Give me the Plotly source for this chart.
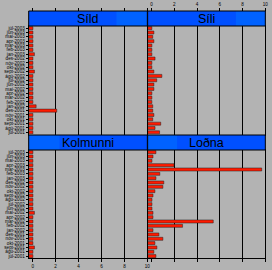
import plotly.graph_objects as go

months = ["júl-2001", "ágú-2001", "sept-2001", "okt-2001", "nóv-2001", "des-2001",
          "jan-2002", "feb-2002", "mar-2002", "apr-2002", "maí-2002", "jún-2002",
          "júl-2002", "ágú-2002", "sept-2002", "okt-2002", "nóv-2002", "des-2002",
          "jan-2003", "feb-2003", "mar-2003", "apr-2003", "maí-2003", "jún-2003",
          "júl-2003"]

# values listed from júl-2001 (bottom) to júl-2003 (top)
sild = [0.02, 0.02, 0.02, 0.02, 0.02, 2.1, 0.3, 0.02, 0.02, 0.02, 0.02, 0.02,
        0.02, 0.02, 0.15, 0.02, 0.02, 0.02, 0.15, 0.02, 0.02, 0.02, 0.02, 0.02, 0.02]
sili = [0.7, 0.3, 0.8, 0.1, 0.2, 0.1, 0.1, 0.02, 0.02, 0.02, 0.2, 0.2,
        0.45, 0.9, 0.2, 0.02, 0.02, 0.3, 0.02, 0.02, 0.02, 0.2, 0.1, 0.2, 0.02]
kolmunni = [0.02, 0.02, 0.15, 0.02, 0.02, 0.02, 0.02, 0.02, 0.02, 0.02, 0.15, 0.02,
            0.02, 0.02, 0.02, 0.02, 0.02, 0.02, 0.02, 0.02, 0.02, 0.02, 0.02, 0.02, 0.02]
lodna = [0.38, 0.2, 0.46, 0.29, 0.99, 0.64, 0.12, 2.72, 5.42, 0.12, 0.12, 0.03,
         0.03, 0.03, 0.12, 0.29, 0.99, 1.07, 0.38, 0.72, 9.68, 1.97, 0.03, 0.12, 0.38]

panel_names = ["Síld", "Síli", "Kolmunni", "Loðna"]
panel_values = [sild, sili, kolmunni, lodna]
x_ticks = [0, 2, 4, 6, 8, 10]
grid_ticks = [2, 4, 6, 8]

XMIN, XMAX = -0.35, 10.0
W, H = 272, 270
BG = "#b3b3b3"
STRIP = "#0050ff"
STRIP_HI = "#0062ff"

col_px = [(29, 149), (149.3, 268.3)]
row_px = [(26, 134.5), (150, 258.3)]      # plot areas (top, bottom) in px from top
strip_px = [(11, 26), (135, 150)]

def px_x(p):
    return p / W

def px_y(p):
    return 1 - p / H

fig = go.Figure()
layout = dict(
    width=W, height=H, margin=dict(l=0, r=0, t=0, b=0),
    paper_bgcolor=BG, plot_bgcolor=BG, showlegend=False,
    font=dict(family="Liberation Sans, Arial, sans-serif", color="black", size=5),
    bargap=0.3,
)
shapes = []
annotations = []
hi_ranges = [(0.74, 1.0), (0.75, 1.0), (0.0, 0.26), (0.0, 0.25)]

for i, (name, vals) in enumerate(zip(panel_names, panel_values)):
    r, c = divmod(i, 2)
    n = i + 1
    xa = "x" if n == 1 else f"x{n}"
    ya = "y" if n == 1 else f"y{n}"
    fig.add_trace(go.Bar(
        y=months, x=[v - XMIN for v in vals], base=XMIN, orientation="h",
        marker=dict(color="#ff1a00", line=dict(color="#202020", width=0.5)),
        xaxis=xa, yaxis=ya, hoverinfo="skip",
    ))
    xd = [px_x(col_px[c][0]), px_x(col_px[c][1])]
    yd = [px_y(row_px[r][1]), px_y(row_px[r][0])]
    layout[f"xaxis{'' if n == 1 else n}"] = dict(
        domain=xd, anchor=ya, range=[XMIN, XMAX], tickvals=grid_ticks,
        showticklabels=False, ticks="", showgrid=True, gridcolor="black",
        gridwidth=1, zeroline=False, showline=True, linecolor="black",
        linewidth=1, mirror=True, fixedrange=True,
    )
    layout[f"yaxis{'' if n == 1 else n}"] = dict(
        domain=yd, anchor=xa, type="category", categoryorder="array",
        categoryarray=months, range=[-0.5, len(months) - 0.5],
        tickmode="array", tickvals=months, ticktext=months,
        showticklabels=(c == 0), ticks="outside" if c == 0 else "",
        ticklen=2, tickwidth=0.6, tickcolor="black",
        tickfont=dict(size=4.6), showgrid=False, zeroline=False,
        showline=True, linecolor="black", linewidth=1, mirror=True,
        fixedrange=True,
    )
    # strip
    sx0, sx1 = xd
    sy0, sy1 = px_y(strip_px[r][1]), px_y(strip_px[r][0])
    shapes.append(dict(type="rect", xref="paper", yref="paper", x0=sx0, x1=sx1,
                       y0=sy0, y1=sy1, fillcolor=STRIP, line=dict(width=0), layer="above"))
    h0, h1 = hi_ranges[i]
    shapes.append(dict(type="rect", xref="paper", yref="paper",
                       x0=sx0 + (sx1 - sx0) * h0, x1=sx0 + (sx1 - sx0) * h1,
                       y0=sy0, y1=sy1, fillcolor=STRIP_HI, line=dict(width=0), layer="above"))
    shapes.append(dict(type="rect", xref="paper", yref="paper", x0=sx0, x1=sx1,
                       y0=sy0, y1=sy1, fillcolor="rgba(0,0,0,0)",
                       line=dict(color="black", width=1), layer="above"))
    annotations.append(dict(text=name, xref="paper", yref="paper",
                            x=(sx0 + sx1) / 2, y=(sy0 + sy1) / 2,
                            xanchor="center", yanchor="middle", showarrow=False,
                            font=dict(size=12.5, color="black")))

# tick axes (top above strips, bottom below lower panels)
tick_axes = [
    (1, px_y(strip_px[0][0]), "top", False),
    (2, px_y(strip_px[0][0]), "top", True),
    (3, px_y(row_px[1][1]), "bottom", True),
    (4, px_y(row_px[1][1]), "bottom", False),
]
for k, (base_n, pos, side, labels) in enumerate(tick_axes):
    n = 5 + k
    base_x = "x" if base_n == 1 else f"x{base_n}"
    base_y = "y" if base_n == 1 else f"y{base_n}"
    c = (base_n - 1) % 2
    layout[f"xaxis{n}"] = dict(
        overlaying=base_x, anchor="free", position=pos, side=side,
        domain=[px_x(col_px[c][0]), px_x(col_px[c][1])],
        range=[XMIN, XMAX], tickvals=x_ticks, ticks="outside", ticklen=3,
        tickwidth=0.8, tickcolor="black", showticklabels=labels,
        tickfont=dict(size=4.6), showgrid=False, zeroline=False,
        showline=False, fixedrange=True,
    )
    fig.add_trace(go.Scatter(x=[None], y=[None], xaxis=f"x{n}", yaxis=base_y,
                             mode="markers", hoverinfo="skip"))

layout["shapes"] = shapes
layout["annotations"] = annotations
fig.update_layout(**layout)
fig.write_html("out.html")
